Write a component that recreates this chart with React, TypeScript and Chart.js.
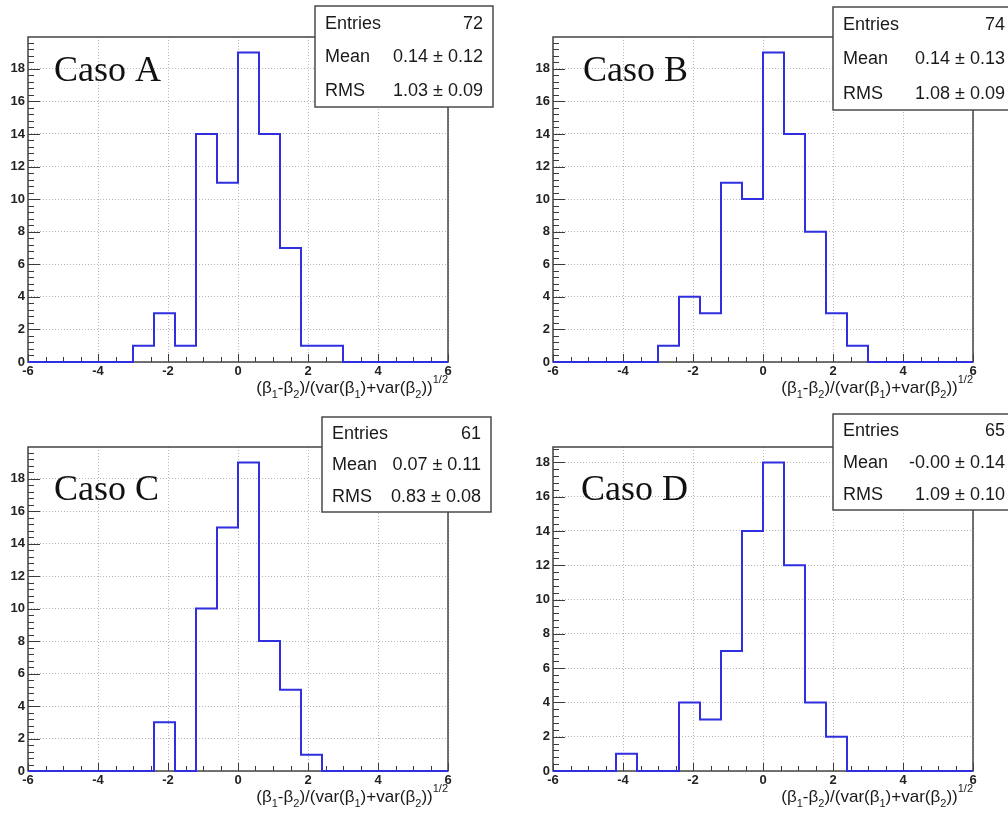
import React, { useEffect, useRef } from "react";
import { Chart, registerables } from "chart.js";

Chart.register(...registerables);

// ---- DATA ----
const binEdges = [-6, -5.4, -4.8, -4.2, -3.6, -3.0, -2.4, -1.8, -1.2, -0.6, 0, 0.6, 1.2, 1.8, 2.4, 3.0, 3.6, 4.2, 4.8, 5.4, 6];
const countsA = [0, 0, 0, 0, 0, 1, 3, 1, 14, 11, 19, 14, 7, 1, 1, 0, 0, 0, 0, 0];
const countsB = [0, 0, 0, 0, 0, 1, 4, 3, 11, 10, 19, 14, 8, 3, 1, 0, 0, 0, 0, 0];
const countsC = [0, 0, 0, 0, 0, 0, 3, 0, 10, 15, 19, 8, 5, 1, 0, 0, 0, 0, 0, 0];
const countsD = [0, 0, 0, 1, 0, 0, 4, 3, 7, 14, 18, 12, 4, 2, 0, 0, 0, 0, 0, 0];
const yMaxes = [19.95, 19.95, 19.95, 18.9];
const caseLabels = ["Caso A", "Caso B", "Caso C", "Caso D"];
const statNames = ["Entries", "Mean", "RMS"];
const statsA = ["72", "0.14 \u00b1 0.12", "1.03 \u00b1 0.09"];
const statsB = ["74", "0.14 \u00b1 0.13", "1.08 \u00b1 0.09"];
const statsC = ["61", "0.07 \u00b1 0.11", "0.83 \u00b1 0.08"];
const statsD = ["65", "-0.00 \u00b1 0.14", "1.09 \u00b1 0.10"];
const xMin = -6;
const xMax = 6;
const xStep = 2;
const yStep = 2;

const allCounts = [countsA, countsB, countsC, countsD];
const allStats = [statsA, statsB, statsC, statsD];

// ---- LAYOUT (canvas-local pixels) ----
const CW = 504;
const CH = 407;
const layouts = [
  { left: 0, top: 0, padL: 28, padR: 56, padT: 37, xH: 45, box: [315, 6, 178, 101], caso: [54, 81] },
  { left: 504, top: 0, padL: 49, padR: 35, padT: 37, xH: 45, box: [329, 7, 182, 103], caso: [79, 81] },
  { left: 0, top: 407, padL: 28, padR: 56, padT: 40, xH: 43, box: [322, 10, 169, 95], caso: [54, 93] },
  { left: 504, top: 407, padL: 49, padR: 35, padT: 40, xH: 43, box: [329, 7, 182, 96], caso: [77, 93] },
];

const SANS = '"Liberation Sans", Arial, Helvetica, sans-serif';
const SERIF = '"Liberation Serif", "Times New Roman", serif';

const titleParts: { t: string; s: number }[] = [
  { t: "(\u03b2", s: 0 },
  { t: "1", s: -1 },
  { t: "-\u03b2", s: 0 },
  { t: "2", s: -1 },
  { t: ")/(var(\u03b2", s: 0 },
  { t: "1", s: -1 },
  { t: ")+var(\u03b2", s: 0 },
  { t: "2", s: -1 },
  { t: "))", s: 0 },
  { t: "1/2", s: 1 },
];

const rootPlugin = {
  id: "rootStyle",
  beforeDatasetsDraw(chart: any, _args: any, opts: any) {
    const { ctx, chartArea: a, scales } = chart;
    const xs = scales.x;
    const ys = scales.y;
    ctx.save();
    ctx.strokeStyle = "#3a3a3a";
    ctx.lineWidth = 1;
    ctx.beginPath();
    // x ticks (major every 2, minor every 0.5)
    const nx = Math.round((xMax - xMin) / 0.5);
    for (let i = 0; i <= nx; i++) {
      const v = xMin + i * 0.5;
      const px = Math.round(xs.getPixelForValue(v)) + 0.5;
      const len = i % 4 === 0 ? 8 : 5;
      ctx.moveTo(px, a.bottom);
      ctx.lineTo(px, a.bottom - len);
    }
    // y ticks (major every 2, minor every 0.4)
    const ymax = opts.yMax;
    for (let i = 0; i * 0.4 <= ymax + 1e-9; i++) {
      const v = i * 0.4;
      const py = Math.round(ys.getPixelForValue(v)) + 0.5;
      const len = i % 5 === 0 ? 12 : 6;
      ctx.moveTo(a.left, py);
      ctx.lineTo(a.left + len, py);
    }
    ctx.stroke();
    ctx.lineWidth = 1.5;
    ctx.strokeStyle = "#444";
    ctx.strokeRect(a.left, a.top, a.right - a.left, a.bottom - a.top);
    ctx.restore();
  },
  afterDraw(chart: any, _args: any, opts: any) {
    const { ctx, chartArea: a } = chart;
    ctx.save();
    // axis title
    const mainFont = "17px " + SANS;
    const subFont = "11px " + SANS;
    let total = 0;
    for (const p of titleParts) {
      ctx.font = p.s === 0 ? mainFont : subFont;
      total += ctx.measureText(p.t).width;
    }
    let x = a.right - total;
    const base = a.bottom + 31;
    ctx.fillStyle = "#1a1a1a";
    ctx.textBaseline = "alphabetic";
    ctx.textAlign = "left";
    for (const p of titleParts) {
      ctx.font = p.s === 0 ? mainFont : subFont;
      const y = p.s === 0 ? base : p.s < 0 ? base + 5 : base - 10;
      ctx.fillText(p.t, x, y);
      x += ctx.measureText(p.t).width;
    }
    // Caso label
    ctx.font = "36px " + SERIF;
    ctx.fillStyle = "#111";
    ctx.fillText(opts.label, opts.caso[0], opts.caso[1]);
    // stats box
    const [bx, by, bw, bh] = opts.box;
    ctx.fillStyle = "#fff";
    ctx.fillRect(bx, by, bw, bh);
    ctx.strokeStyle = "#4a4a4a";
    ctx.lineWidth = 1.5;
    ctx.strokeRect(bx, by, bw, bh);
    ctx.font = "18px " + SANS;
    ctx.fillStyle = "#1a1a1a";
    ctx.textBaseline = "middle";
    for (let i = 0; i < statNames.length; i++) {
      const cy = by + (bh * (2 * i + 1)) / 6 + 1;
      ctx.textAlign = "left";
      ctx.fillText(statNames[i], bx + 10, cy);
      ctx.textAlign = "right";
      ctx.fillText(opts.stats[i], bx + bw - 10, cy);
    }
    ctx.restore();
  },
};

function Panel({ idx }: { idx: number }) {
  const ref = useRef<HTMLCanvasElement | null>(null);
  const L = layouts[idx];
  useEffect(() => {
    if (!ref.current) return;
    const counts = allCounts[idx];
    const pts = binEdges.map((e, i) => ({ x: e, y: counts[Math.min(i, counts.length - 1)] }));
    const chart = new Chart(ref.current, {
      type: "line",
      data: {
        datasets: [
          {
            data: pts,
            stepped: true,
            borderColor: "#2f2fe0",
            borderWidth: 2,
            pointRadius: 0,
            fill: false,
            clip: false as any,
          },
        ],
      },
      options: {
        animation: false,
        responsive: false,
        events: [],
        layout: { padding: { left: 0, right: L.padR, top: L.padT, bottom: 0 } },
        plugins: {
          legend: { display: false },
          tooltip: { enabled: false },
          rootStyle: {
            yMax: yMaxes[idx],
            label: caseLabels[idx],
            stats: allStats[idx],
            box: L.box,
            caso: L.caso,
          },
        } as any,
        scales: {
          x: {
            type: "linear",
            min: xMin,
            max: xMax,
            afterFit: (s: any) => {
              s.height = L.xH;
            },
            ticks: {
              stepSize: xStep,
              autoSkip: false,
              maxRotation: 0,
              padding: 2,
              color: "#222",
              font: { family: SANS, size: 13, weight: "bold" },
            },
            grid: { color: "#b5b5b5", drawTicks: false, lineWidth: 1 },
            border: { display: false, dash: [1, 2] },
          },
          y: {
            type: "linear",
            min: 0,
            max: yMaxes[idx],
            afterFit: (s: any) => {
              s.width = L.padL;
            },
            ticks: {
              stepSize: yStep,
              includeBounds: false,
              padding: 3,
              color: "#222",
              font: { family: SANS, size: 13, weight: "bold" },
            },
            grid: { color: "#b5b5b5", drawTicks: false, lineWidth: 1 },
            border: { display: false, dash: [1, 2] },
          },
        },
      } as any,
      plugins: [rootPlugin],
    });
    return () => chart.destroy();
  }, [idx]);
  return (
    <canvas
      ref={ref}
      width={CW}
      height={CH}
      style={{ position: "absolute", left: L.left, top: L.top, width: CW, height: CH }}
    />
  );
}

export default function App() {
  return (
    <div
      style={{
        position: "fixed",
        left: 0,
        top: 0,
        width: 1008,
        height: 814,
        overflow: "hidden",
        background: "#fff",
      }}
    >
      {[0, 1, 2, 3].map((i) => (
        <Panel key={i} idx={i} />
      ))}
    </div>
  );
}
